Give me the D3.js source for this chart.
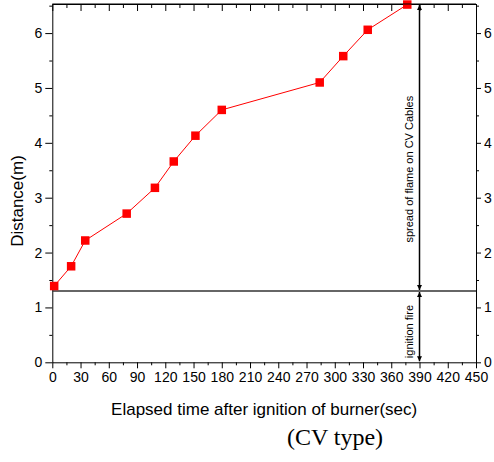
<!DOCTYPE html>
<head>
<meta charset="utf-8">
<style>
body { margin: 0; background: #fff; }
svg { font-family: "Liberation Sans", Arial, sans-serif; }
.axis path, .axis line { stroke: #000; stroke-width: 1; }
.axis text { font-size: 14px; fill: #000; }
</style>
</head>
<body>
<script src="https://cdnjs.cloudflare.com/ajax/libs/d3/7.8.5/d3.min.js"></script>
<script>

// data (time in s, distance in m)
var times = [2, 20, 35, 79, 109, 129, 152, 180, 284, 309, 335, 377];
var distances = [1.39, 1.75, 2.22, 2.71, 3.18, 3.66, 4.13, 4.60, 5.10, 5.58, 6.06, 6.52];

var xTicks = d3.range(0, 451, 30);
var xMinor = d3.range(15, 450, 30);
var yTicks = [0, 1, 2, 3, 4, 5, 6];
var yMinor = [0.5, 1.5, 2.5, 3.5, 4.5, 5.5, 6.5];

var ignitionLevel = 1.3;
var markerTime = 390;

var width = 494, height = 462;
// note: "top" is taken by window.top, so plot edges get a prefix
var plotL = 52.3, plotR = 476, plotT = 4, plotB = 362.3;

var svg = d3.select("body").append("svg")
    .attr("width", width)
    .attr("height", height);

var x = d3.scaleLinear().domain([0, 450]).range([plotL, plotR]);
var y = d3.scaleLinear().domain([0, 6.53]).range([plotB, plotT]);
var fmt = d3.format("d");

// minor ticks first, so the major ones draw on top
svg.append("g").attr("class", "axis")
    .attr("transform", "translate(0," + plotB + ")")
    .call(d3.axisBottom(x).tickValues(xMinor).tickSize(3).tickFormat(""))
    .select(".domain").remove();
svg.append("g").attr("class", "axis")
    .attr("transform", "translate(0," + plotT + ")")
    .call(d3.axisBottom(x).tickValues(xMinor).tickSize(4).tickFormat(""))
    .select(".domain").remove();
svg.append("g").attr("class", "axis")
    .attr("transform", "translate(" + plotL + ",0)")
    .call(d3.axisLeft(y).tickValues(yMinor).tickSize(3).tickFormat(""))
    .select(".domain").remove();
svg.append("g").attr("class", "axis")
    .attr("transform", "translate(" + plotR + ",0)")
    .call(d3.axisRight(y).tickValues(yMinor).tickSize(3).tickFormat(""))
    .select(".domain").remove();

// major ticks
svg.append("g").attr("class", "axis")
    .attr("transform", "translate(0," + plotB + ")")
    .call(d3.axisBottom(x).tickValues(xTicks).tickFormat(fmt).tickSize(6).tickSizeOuter(0).tickPadding(4));
svg.append("g").attr("class", "axis")
    .attr("transform", "translate(0," + plotT + ")")
    .call(d3.axisBottom(x).tickValues(xTicks).tickSize(7).tickSizeOuter(0).tickFormat(""));
svg.append("g").attr("class", "axis")
    .attr("transform", "translate(" + plotL + ",0)")
    .call(d3.axisLeft(y).tickValues(yTicks).tickFormat(fmt).tickSize(7).tickSizeOuter(0).tickPadding(3));
svg.append("g").attr("class", "axis")
    .attr("transform", "translate(" + plotR + ",0)")
    .call(d3.axisRight(y).tickValues(yTicks).tickFormat(fmt).tickSize(5).tickSizeOuter(0).tickPadding(3));

// ignition level line
svg.append("line")
    .attr("x1", x(0)).attr("x2", x(450))
    .attr("y1", y(ignitionLevel)).attr("y2", y(ignitionLevel))
    .attr("stroke", "#333").attr("stroke-width", 1.5);

// arrows at 390 s
var defs = svg.append("defs");
defs.append("marker")
    .attr("id", "arr")
    .attr("viewBox", "0 0 10 10")
    .attr("refX", 10).attr("refY", 5)
    .attr("markerWidth", 6).attr("markerHeight", 5)
    .attr("markerUnits", "userSpaceOnUse")
    .attr("orient", "auto-start-reverse")
    .append("path")
    .attr("d", "M0,0L10,5L0,10Z")
    .attr("fill", "#000");

svg.append("line")
    .attr("x1", x(markerTime)).attr("x2", x(markerTime))
    .attr("y1", y(ignitionLevel) - 1).attr("y2", plotT + 1)
    .attr("stroke", "#000").attr("stroke-width", 1.5)
    .attr("marker-start", "url(#arr)")
    .attr("marker-end", "url(#arr)");
svg.append("line")
    .attr("x1", x(markerTime)).attr("x2", x(markerTime))
    .attr("y1", plotB - 1).attr("y2", y(ignitionLevel) + 1)
    .attr("stroke", "#000").attr("stroke-width", 1.5)
    .attr("marker-start", "url(#arr)")
    .attr("marker-end", "url(#arr)");

svg.append("text")
    .attr("transform", "translate(" + (x(markerTime) - 7) + "," + y(3.52) + ") rotate(-90)")
    .attr("text-anchor", "middle")
    .style("font-size", "11px")
    .text("spread of flame on CV Cables");
svg.append("text")
    .attr("transform", "translate(" + (x(markerTime) - 7) + "," + y(0.56) + ") rotate(-90)")
    .attr("text-anchor", "middle")
    .style("font-size", "11px")
    .text("ignition fire");

// series
var line = d3.line()
    .x(function(d, i) { return x(times[i]); })
    .y(function(d) { return y(d); });

svg.append("path")
    .datum(distances)
    .attr("d", line)
    .attr("fill", "none")
    .attr("stroke", "#ff0000")
    .attr("stroke-width", 1);

var s = 8.5;
svg.selectAll("rect.pt")
    .data(distances)
  .enter().append("rect")
    .attr("class", "pt")
    .attr("x", function(d, i) { return x(times[i]) - s / 2; })
    .attr("y", function(d) { return y(d) - s / 2; })
    .attr("width", s).attr("height", s)
    .attr("fill", "#ff0000");

// top frame edge
svg.append("line")
    .attr("x1", plotL).attr("x2", plotR)
    .attr("y1", plotT).attr("y2", plotT)
    .attr("stroke", "#000");

// titles
svg.append("text")
    .attr("x", (plotL + plotR) / 2).attr("y", 415)
    .attr("text-anchor", "middle")
    .style("font-size", "17px")
    .text("Elapsed time after ignition of burner(sec)");
svg.append("text")
    .attr("transform", "translate(23," + 201 + ") rotate(-90)")
    .attr("text-anchor", "middle")
    .style("font-size", "17px")
    .text("Distance(m)");
svg.append("text")
    .attr("x", 335).attr("y", 445)
    .attr("text-anchor", "middle")
    .style("font-family", "'Liberation Serif', 'Times New Roman', serif")
    .style("font-size", "24px")
    .text("(CV type)");

</script>
</body>
</html>
